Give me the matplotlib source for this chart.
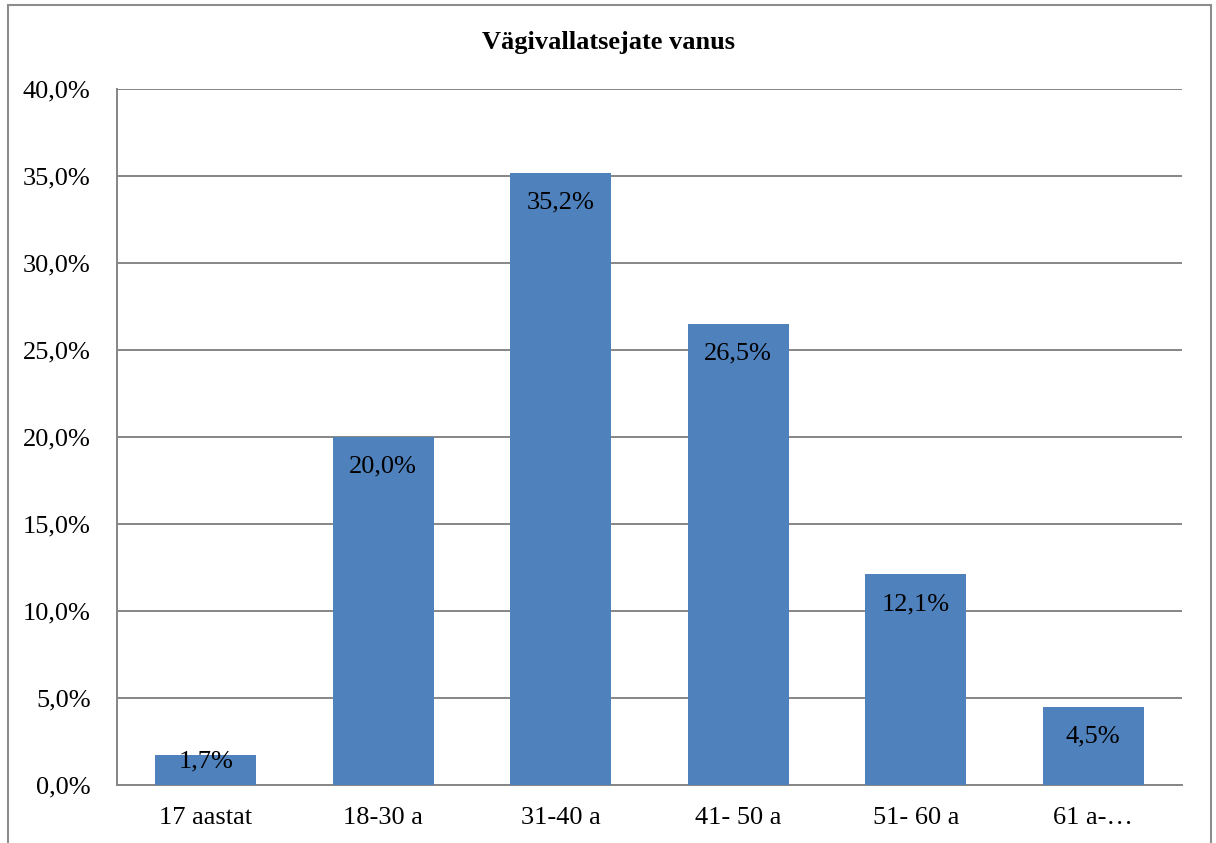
import matplotlib
matplotlib.use("Agg")
import matplotlib.pyplot as plt
from matplotlib.patches import Rectangle

categories = ["17 aastat", "18-30 a", "31-40 a", "41- 50 a", "51- 60 a", "61 a-…"]
values = [1.7, 20.0, 35.2, 26.5, 12.1, 4.5]
yticks = [0, 5, 10, 15, 20, 25, 30, 35, 40]
title = "Vägivallatsejate vanus"

W, H = 1216, 843
fig = plt.figure(figsize=(W / 100, H / 100), dpi=100)
plt.rcParams['font.family'] = ['Liberation Serif', 'DejaVu Serif']

# outer chart frame
fig.patches.append(Rectangle((8 / W, -0.05), (1211 - 8) / W, 1 - 5 / H + 0.05,
                             transform=fig.transFigure, fill=False,
                             edgecolor="#8c8c8c", linewidth=1.5))

left, right, top, bottom = 117, 1182, 89, 785
ax = fig.add_axes([left / W, 1 - bottom / H, (right - left) / W, (bottom - top) / H])

fs = 19
x = list(range(len(categories)))
ax.bar(x, values, width=0.57, color="#4F81BD", zorder=3)
ax.set_xlim(-0.5, len(categories) - 0.5)
ax.set_ylim(0, 40)
ax.set_yticks(yticks)
ax.set_yticklabels([f"{t:.1f}%".replace(".", ",") for t in yticks], fontsize=fs)
ax.set_xticks(x)
ax.set_xticklabels(categories, fontsize=fs)
ax.tick_params(axis="both", length=0)
ax.tick_params(axis="y", pad=19)
ax.tick_params(axis="x", pad=16)
ax.grid(axis="y", color="#868686", linewidth=1.4, zorder=0)
for s in ["top", "right"]:
    ax.spines[s].set_visible(False)
for s in ["left", "bottom"]:
    ax.spines[s].set_color("#868686")
    ax.spines[s].set_linewidth(1.4)

for xi, v in zip(x, values):
    ypos = v - 1.72 if v > 3.44 else v * 0.8
    ax.text(xi, ypos, f"{v:.1f}%".replace(".", ","), ha="center", va="center",
            fontsize=fs, color="black", zorder=4)

fig.text(608 / W, 1 - 43 / H, title, ha="center", va="center",
         fontsize=19, fontweight="bold")

fig.savefig("out.png", dpi=100)
